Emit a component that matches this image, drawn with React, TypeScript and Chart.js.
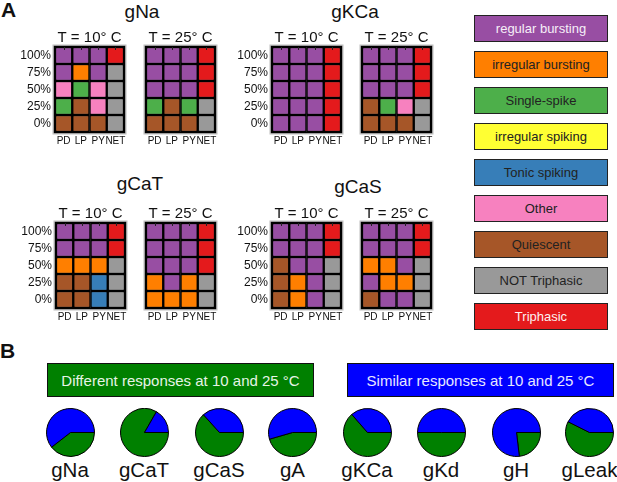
import { useEffect, useRef } from 'react';
import { Chart, registerables } from 'chart.js';

Chart.register(...registerables);

const FONT = "'Liberation Sans', Arial, Helvetica, sans-serif";
Chart.defaults.font.family = FONT;

// ---------- data ----------
const neurons = ['PD', 'LP', 'PY', 'NET'];
const perturbLevels = ['0%', '25%', '50%', '75%', '100%'];

const stateCodes = ['P', 'O', 'G', 'Y', 'B', 'K', 'Q', 'N', 'T'];
const stateNames = [
  'regular bursting',
  'irregular bursting',
  'Single-spike',
  'irregular spiking',
  'Tonic spiking',
  'Other',
  'Quiescent',
  'NOT Triphasic',
  'Triphasic',
];
const stateColors = ['#984ea3', '#ff7f00', '#4daf4a', '#ffff33', '#377eb8', '#f781bf', '#a65628', '#999999', '#e41a1c'];
const stateTextColors = ['#f6eef8', '#222', '#222', '#222', '#222', '#222', '#222', '#222', '#fdf0f0'];

// rows listed from 0% (bottom) to 100% (top); characters = PD, LP, PY, NET
const gNa10 = ['QQQN', 'GQKN', 'KGKN', 'POPN', 'PPPT'];
const gNa25 = ['QQQN', 'GQGN', 'PPPT', 'PPPT', 'PPPT'];
const gKCa10 = ['PPPT', 'PPPT', 'PPPT', 'PPPT', 'PPPT'];
const gKCa25 = ['QQQN', 'QGKN', 'PPPT', 'PPPT', 'PPPT'];
const gCaT10 = ['QQBN', 'QQBN', 'OOON', 'PPPT', 'PPPT'];
const gCaT25 = ['OOON', 'OPON', 'PPPT', 'PPPT', 'PPPT'];
const gCaS10 = ['QOPN', 'QOPN', 'QPPN', 'PPPT', 'PPPT'];
const gCaS25 = ['QPPN', 'POON', 'OOPN', 'PPPT', 'PPPT'];

const cellSpan = [1, 1, 1, 1];

const tempLabels = ['T = 10° C', 'T = 25° C'];

const pieChannels = ['gNa', 'gCaT', 'gCaS', 'gA', 'gKCa', 'gKd', 'gH', 'gLeak'];
const pieDifferent = [39.5, 83.3, 63.3, 45.5, 63.6, 50, 23.1, 57.4];
const pieSimilar = [60.5, 16.7, 36.7, 54.5, 36.4, 50, 76.9, 42.6];

const bannerTexts = ['Different responses at 10 and 25 °C', 'Similar responses at 10 and 25 °C'];
const GREEN = '#008000';
const BLUE = '#0000ff';

// ---------- layout ----------
const Y_W = 40;
const X_H = 16;
const TITLE_H = 18;
const GW = 69;
const GH = 85;

const framePlugin = {
  id: 'gridFrame',
  afterDatasetsDraw(chart: any) {
    const { ctx, chartArea: a } = chart;
    ctx.save();
    ctx.lineWidth = 1.5;
    ctx.strokeStyle = '#000';
    ctx.strokeRect(a.left - 0.75, a.top - 0.75, a.right - a.left + 1.5, a.bottom - a.top + 1.5);
    ctx.lineWidth = 1;
    ctx.strokeStyle = '#bdbdbd';
    ctx.strokeRect(a.left - 2, a.top - 2, a.right - a.left + 4, a.bottom - a.top + 4);
    // small inward ticks at the top of each column
    ctx.strokeStyle = '#222';
    ctx.lineWidth = 1;
    const xs = chart.scales.x;
    for (let i = 0; i < neurons.length; i++) {
      const px = Math.round(xs.getPixelForTick(i)) + 0.5;
      ctx.beginPath();
      ctx.moveTo(px, a.top);
      ctx.lineTo(px, a.top + 3);
      ctx.stroke();
    }
    ctx.restore();
  },
};

function GridChart({
  rows,
  title,
  left,
  top,
  showY,
}: {
  rows: string[];
  title: string;
  left: number;
  top: number;
  showY: boolean;
}) {
  const ref = useRef<HTMLCanvasElement>(null);
  useEffect(() => {
    const chart = new Chart(ref.current!, {
      type: 'bar',
      data: {
        labels: neurons,
        datasets: perturbLevels.map((lvl, r) => ({
          label: lvl,
          data: cellSpan,
          backgroundColor: rows[r].split('').map((c) => stateColors[stateCodes.indexOf(c)]),
          borderColor: '#000',
          borderWidth: 1.5,
          borderSkipped: false,
          barPercentage: 1,
          categoryPercentage: 1,
        })),
      },
      options: {
        responsive: false,
        animation: false,
        layout: { padding: 0 },
        plugins: {
          legend: { display: false },
          tooltip: { enabled: false },
          title: {
            display: true,
            text: title,
            color: '#111',
            padding: 0,
            font: { size: 15, weight: 'normal', family: FONT, lineHeight: '18px' as any },
          },
        },
        scales: {
          x: {
            stacked: true,
            grid: { display: false, drawTicks: false },
            border: { display: false },
            ticks: { font: { size: 10 }, color: '#111', padding: 3, maxRotation: 0, autoSkip: false },
            afterFit: (s: any) => {
              s.height = X_H;
            },
          },
          y: {
            stacked: true,
            min: 0,
            max: 5,
            grid: { display: false, drawTicks: false },
            border: { display: false },
            afterBuildTicks: (s: any) => {
              s.ticks = perturbLevels.map((_, i) => ({ value: i + 0.5 }));
            },
            ticks: {
              display: showY,
              font: { size: 12 },
              color: '#111',
              padding: 4,
              callback: (v: any) => perturbLevels[Math.floor(Number(v))],
            },
            afterFit: (s: any) => {
              s.width = Y_W;
            },
          },
          yRight: {
            position: 'right',
            min: 0,
            max: 5,
            grid: { display: false, drawTicks: false },
            border: { display: false },
            ticks: { display: false },
            afterFit: (s: any) => {
              s.width = Y_W;
            },
          },
        },
      },
      plugins: [framePlugin],
    });
    return () => chart.destroy();
  }, []);
  const w = Y_W + GW + Y_W;
  const h = TITLE_H + GH + X_H;
  return (
    <canvas
      ref={ref}
      width={w}
      height={h}
      style={{ position: 'absolute', left: left - Y_W, top: top - TITLE_H, width: w, height: h }}
    />
  );
}

const PIE = 49;
function PieChart({ idx, cx, cy }: { idx: number; cx: number; cy: number }) {
  const ref = useRef<HTMLCanvasElement>(null);
  useEffect(() => {
    const chart = new Chart(ref.current!, {
      type: 'pie',
      data: {
        labels: ['Different', 'Similar'],
        datasets: [
          {
            data: [pieDifferent[idx], pieSimilar[idx]],
            backgroundColor: [GREEN, BLUE],
            borderColor: '#000',
            borderWidth: 1,
            hoverOffset: 0,
          },
        ],
      },
      options: {
        responsive: false,
        animation: false,
        rotation: 90,
        layout: { padding: 0 },
        plugins: { legend: { display: false }, tooltip: { enabled: false } },
      },
    });
    return () => chart.destroy();
  }, []);
  return (
    <canvas
      ref={ref}
      width={PIE}
      height={PIE}
      style={{ position: 'absolute', left: cx - PIE / 2, top: cy - PIE / 2, width: PIE, height: PIE }}
    />
  );
}

function Label({
  x,
  baseline,
  size,
  children,
  weight = 'normal',
  align = 'center',
  color = '#111',
}: {
  x: number;
  baseline: number;
  size: number;
  children: any;
  weight?: string;
  align?: string;
  color?: string;
}) {
  return (
    <div
      style={{
        position: 'absolute',
        left: x,
        top: baseline - 0.8465 * size,
        fontSize: size,
        lineHeight: `${size}px`,
        fontWeight: weight as any,
        color,
        whiteSpace: 'nowrap',
        transform: align === 'center' ? 'translateX(-50%)' : undefined,
      }}
    >
      {children}
    </div>
  );
}

const gridPanels = [
  { rows: gNa10, t: 0, left: 55, top: 47 },
  { rows: gNa25, t: 1, left: 146, top: 47 },
  { rows: gKCa10, t: 0, left: 272, top: 47 },
  { rows: gKCa25, t: 1, left: 362, top: 47 },
  { rows: gCaT10, t: 0, left: 56, top: 223 },
  { rows: gCaT25, t: 1, left: 146, top: 223 },
  { rows: gCaS10, t: 0, left: 272, top: 223 },
  { rows: gCaS25, t: 1, left: 362, top: 223 },
];
const panelTitles = [
  { text: 'gNa', x: 142, baseline: 18 },
  { text: 'gKCa', x: 355, baseline: 18 },
  { text: 'gCaT', x: 140, baseline: 190 },
  { text: 'gCaS', x: 358, baseline: 193 },
];
const pieCenters = [70, 144, 219, 292.5, 367, 441, 516, 589.5];

export default function App() {
  useEffect(() => {
    document.body.style.margin = '0';
  }, []);
  return (
    <div
      style={{
        position: 'relative',
        width: 617,
        height: 482,
        background: '#fff',
        fontFamily: FONT,
        overflow: 'hidden',
      }}
    >
      <Label x={1} baseline={17} size={21} weight="bold" align="left">
        A
      </Label>
      <Label x={0} baseline={358} size={21} weight="bold" align="left">
        B
      </Label>
      {panelTitles.map((p) => (
        <Label key={p.text} x={p.x} baseline={p.baseline} size={19}>
          {p.text}
        </Label>
      ))}
      {gridPanels.map((g, i) => (
        <GridChart
          key={i}
          rows={g.rows}
          title={tempLabels[g.t]}
          left={g.left}
          top={g.top}
          showY={g.t === 0}
        />
      ))}
      {stateNames.map((name, i) => (
        <div
          key={name}
          style={{
            position: 'absolute',
            left: 474,
            top: 15 + 36 * i,
            width: 134,
            height: 27,
            boxSizing: 'border-box',
            border: '1.5px solid #222',
            background: stateColors[i],
            color: stateTextColors[i],
            fontSize: 13,
            display: 'flex',
            alignItems: 'center',
            justifyContent: 'center',
            whiteSpace: 'nowrap',
          }}
        >
          {name}
        </div>
      ))}
      {bannerTexts.map((txt, i) => (
        <div
          key={txt}
          style={{
            position: 'absolute',
            left: i === 0 ? 47 : 347,
            top: 363,
            width: 267,
            height: 34,
            boxSizing: 'border-box',
            border: '1px solid #111',
            background: i === 0 ? GREEN : BLUE,
            color: i === 0 ? '#e6f4e6' : '#e8e8ff',
            fontSize: 15,
            display: 'flex',
            alignItems: 'center',
            justifyContent: 'center',
            whiteSpace: 'nowrap',
          }}
        >
          {txt}
        </div>
      ))}
      {pieChannels.map((ch, i) => (
        <PieChart key={ch} idx={i} cx={pieCenters[i]} cy={432} />
      ))}
      {pieChannels.map((ch, i) => (
        <Label key={'l' + ch} x={pieCenters[i]} baseline={477.5} size={20.5}>
          {ch}
        </Label>
      ))}
    </div>
  );
}
